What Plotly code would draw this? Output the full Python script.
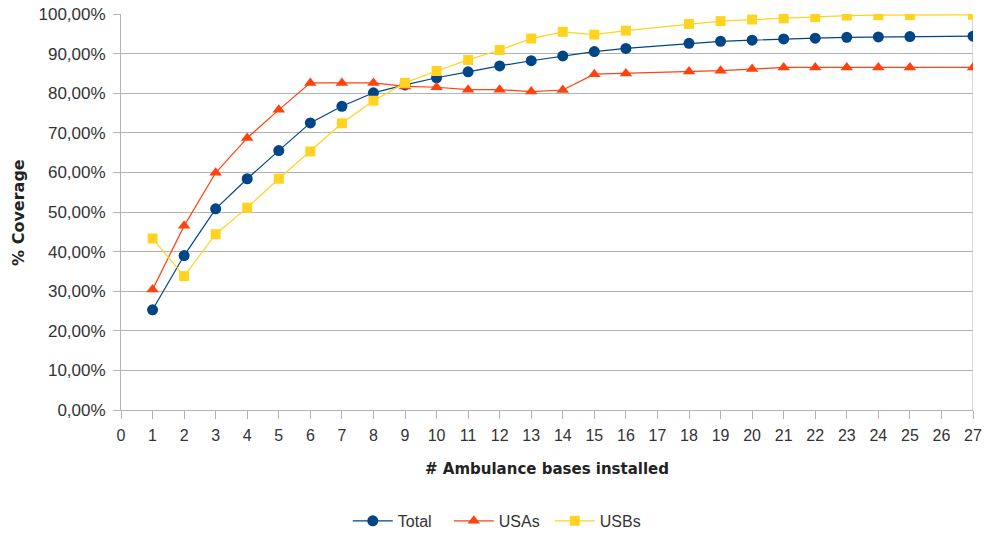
import plotly.graph_objects as go

x_bases = [1, 2, 3, 4, 5, 6, 7, 8, 9, 10, 11, 12, 13, 14, 15, 16, 18, 19, 20, 21, 22, 23, 24, 25, 27]
total = [25.3, 39.0, 50.8, 58.4, 65.5, 72.5, 76.7, 80.1, 82.1, 83.9, 85.4, 86.9, 88.2, 89.4, 90.5, 91.3,
         92.6, 93.1, 93.4, 93.7, 93.9, 94.1, 94.2, 94.3, 94.4]
usas = [30.4, 46.5, 59.9, 68.7, 75.8, 82.6, 82.6, 82.6, 81.7, 81.5, 80.9, 80.9, 80.4, 80.8, 84.8, 85.0,
        85.5, 85.7, 86.1, 86.5, 86.5, 86.5, 86.5, 86.5, 86.5]
usbs = [43.3, 33.8, 44.4, 51.1, 58.4, 65.3, 72.4, 78.1, 82.6, 85.6, 88.4, 90.9, 93.8, 95.5, 94.8, 95.8,
        97.5, 98.2, 98.6, 98.9, 99.2, 99.6, 99.7, 99.7, 99.8]
x_ticks = list(range(0, 28))
y_ticks = [i / 10 for i in range(0, 11)]

fig = go.Figure()
series = [
    ("Total", total, "#004586", "circle", 11),
    ("USAs", usas, "#ff420e", "triangle-up", 11),
    ("USBs", usbs, "#ffd320", "square", 10),
]
for name, vals, color, sym, size in series:
    fig.add_trace(go.Scatter(
        x=x_bases, y=[v / 100 for v in vals], name=name, mode="lines+markers",
        line=dict(color=color, width=1.2),
        marker=dict(symbol=sym, size=size, color=color),
    ))

grid = "#b3b3b3"
fig.update_layout(
    width=984, height=535,
    margin=dict(l=121, r=11, t=14, b=125, autoexpand=False),
    paper_bgcolor="white", plot_bgcolor="white",
    separators=",.",
    font=dict(family="Liberation Sans, Arial, sans-serif", color="#333333"),
    xaxis=dict(
        range=[0, 27], tickvals=x_ticks, ticktext=[str(t) for t in x_ticks],
        showgrid=False, zeroline=False, showline=True, linecolor=grid, linewidth=1,
        ticks="outside", ticklen=8, tickcolor=grid, automargin=False,
        ticklabeloverflow="allow", ticklabelstandoff=3,
        tickfont=dict(family="Liberation Sans, Arial", size=16, color="#333333"),
    ),
    yaxis=dict(
        range=[0, 1], tickvals=y_ticks, tickformat=".2%",
        showgrid=True, gridcolor=grid, gridwidth=1, zeroline=False,
        showline=True, linecolor=grid, linewidth=1,
        ticks="outside", ticklen=7, tickcolor=grid, automargin=False,
        ticklabelstandoff=4, ticklabeloverflow="allow",
        tickfont=dict(family="Liberation Sans, Arial", size=17, color="#333333"),
    ),
    legend=dict(orientation="h", x=0.444, xanchor="center", y=-0.28, yanchor="middle",
                font=dict(family="Liberation Sans, Arial", size=16, color="#333333"),
                itemwidth=40, tracegroupgap=0, entrywidth=46),
    showlegend=True,
)
fig.add_annotation(text="<b># Ambulance bases installed</b>", xref="paper", yref="paper",
                   x=0.5, y=-0.148, xanchor="center", yanchor="middle", showarrow=False,
                   font=dict(family="DejaVu Sans, Verdana", size=15, color="#222222"))
fig.add_annotation(text="<b>% Coverage</b>", xref="paper", yref="paper",
                   x=-0.121, y=0.5, xanchor="center", yanchor="middle", showarrow=False,
                   textangle=-90,
                   font=dict(family="DejaVu Sans, Verdana", size=16, color="#222222"))
# right border line at x=27
fig.add_shape(type="line", xref="x", yref="paper", x0=27, x1=27, y0=0, y1=1,
              line=dict(color=grid, width=1), layer="below")

fig.write_html("out.html", config={"displayModeBar": False},
               post_script="document.body.style.margin='0px';document.body.style.overflow='hidden';")
